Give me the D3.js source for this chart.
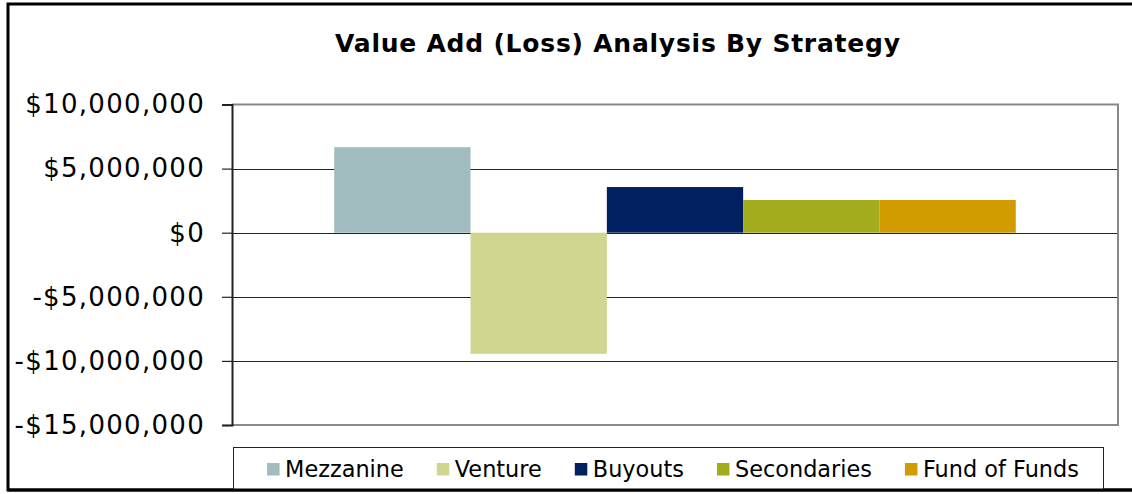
<!DOCTYPE html>
<html>
<head>
<meta charset="utf-8">
<script src="https://cdn.jsdelivr.net/npm/d3@7"></script>
<style>
  html, body { margin: 0; padding: 0; background: #fff; }
  svg { display: block; font-family: "DejaVu Sans", Verdana, sans-serif; }
</style>
</head>
<body>
<div id="chart"></div>
<script>
// data
const strategies = ['Mezzanine', 'Venture', 'Buyouts', 'Secondaries', 'Fund of Funds'];
const values = [6670000, -9450000, 3560000, 2550000, 2550000];
const colors = ['#A0BCBF', '#D0D690', '#002060', '#A2AC1C', '#D09C00'];
const yTicks = [10000000, 5000000, 0, -5000000, -10000000, -15000000];
const title = 'Value Add (Loss) Analysis By Strategy';

const width = 1132, height = 494;
const plot = {left: 232, right: 1118, top: 104.5, bottom: 425};

const svg = d3.select('#chart').append('svg')
    .attr('width', width)
    .attr('height', height);

// outer border (right side is cut off in the picture)
svg.append('rect')
    .attr('x', 8).attr('y', 4)
    .attr('width', width + 10).attr('height', 486)
    .attr('fill', '#fff')
    .attr('stroke', '#000')
    .attr('stroke-width', 3);

svg.append('text')
    .attr('x', 335).attr('y', 51.5)
    .attr('font-size', 25)
    .attr('font-weight', 'bold')
    .attr('fill', '#000')
    .attr('textLength', 565)
    .attr('lengthAdjust', 'spacing')
    .text(title);

const y = d3.scaleLinear()
    .domain([d3.min(yTicks), d3.max(yTicks)])
    .range([plot.bottom, plot.top]);

// one category, five series side by side (gap width ~150%)
const x0 = d3.scaleBand()
    .domain(['all'])
    .range([plot.left, plot.right])
    .paddingInner(0)
    .paddingOuter(0.15);
const x1 = d3.scaleBand()
    .domain(strategies)
    .range([0, x0.bandwidth()]);

// gridlines
svg.append('g').selectAll('line').data(yTicks.filter(d => d != d3.min(yTicks) && d != d3.max(yTicks))).enter()
    .append('line')
    .attr('x1', plot.left).attr('x2', plot.right)
    .attr('y1', d => Math.round(y(d)) + 0.5)
    .attr('y2', d => Math.round(y(d)) + 0.5)
    .attr('stroke', '#222')
    .attr('stroke-width', 1.2);

// plot frame (top, right, bottom gray)
svg.append('path')
    .attr('d', `M${plot.left},${plot.top}H${plot.right}V${plot.bottom}H${plot.left}`)
    .attr('fill', 'none')
    .attr('stroke', '#888')
    .attr('stroke-width', 2);

// bars
svg.append('g').selectAll('rect').data(strategies).enter()
    .append('rect')
    .attr('x', d => x0('all') + x1(d))
    .attr('y', (d, i) => y(Math.max(0, values[i])))
    .attr('width', x1.bandwidth())
    .attr('height', (d, i) => Math.abs(y(values[i]) - y(0)))
    .attr('fill', (d, i) => colors[i]);

// y axis
const fmt = d => (d < 0 ? '-' : '') + '$' + d3.format(',')(Math.abs(d));
const yAxis = svg.append('g')
    .attr('transform', `translate(${plot.left},0)`)
    .call(d3.axisLeft(y).tickValues(yTicks).tickSize(10).tickPadding(17).tickFormat(fmt));
yAxis.select('.domain').attr('stroke', '#222').attr('stroke-width', 2);
yAxis.selectAll('.tick line').attr('stroke', '#222').attr('stroke-width', 1.2);
yAxis.selectAll('.tick text')
    .attr('font-size', 26)
    .attr('letter-spacing', 1.3)
    .attr('font-family', '"DejaVu Sans", Verdana, sans-serif')
    .attr('fill', '#000');

// legend
const legendBox = {x: 233, y: 447, w: 870, h: 43};
svg.append('rect')
    .attr('x', legendBox.x + 0.5).attr('y', legendBox.y + 0.5)
    .attr('width', legendBox.w).attr('height', legendBox.h)
    .attr('fill', '#fff')
    .attr('stroke', '#222')
    .attr('stroke-width', 1);

const legend = svg.append('g');
const items = legend.selectAll('g').data(strategies).enter().append('g');
items.append('rect')
    .attr('width', 12.5).attr('height', 12.5)
    .attr('y', 463)
    .attr('fill', (d, i) => colors[i]);
items.append('text')
    .attr('x', 18).attr('y', 477)
    .attr('font-size', 22.4)
    .attr('fill', '#000')
    .text(d => d);

let cx = 0;
const offsets = [];
items.each(function(d) {
    offsets.push(cx);
    cx += 18 + this.querySelector('text').getComputedTextLength() + 33;
});
const total = cx - 33;
const start = 673 - total / 2;
items.attr('transform', (d, i) => `translate(${start + offsets[i]},0)`);

// redraw bottom border on top of legend box
svg.append('line')
    .attr('x1', 8).attr('x2', width)
    .attr('y1', 490).attr('y2', 490)
    .attr('stroke', '#000')
    .attr('stroke-width', 3);
</script>
</body>
</html>
